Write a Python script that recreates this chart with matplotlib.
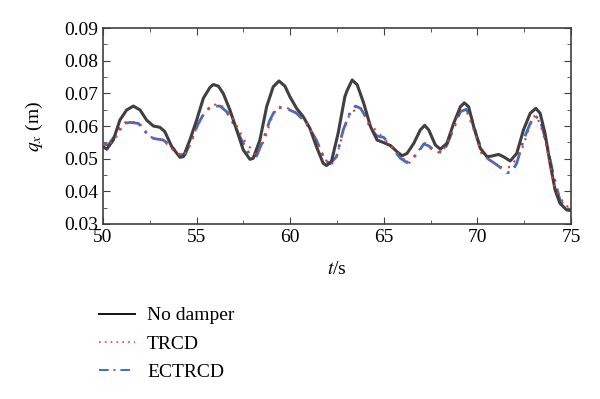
import matplotlib
matplotlib.use("Agg")
import matplotlib.pyplot as plt
from matplotlib.lines import Line2D
from matplotlib.ticker import MultipleLocator

plt.rcParams["font.family"] = ["Liberation Serif", "DejaVu Serif"]
plt.rcParams["mathtext.fontset"] = "stix"

# No damper
t_nd = [50.0, 50.2, 50.55, 50.9, 51.26, 51.62, 51.98, 52.33, 52.69, 53.04, 53.3, 53.67,
        54.11, 54.29, 54.64, 55.0, 55.36, 55.71, 55.89, 56.16, 56.42, 56.78, 57.14, 57.49,
        57.85, 58.02, 58.38, 58.74, 59.09, 59.4, 59.72, 59.98, 60.34, 60.69, 61.05, 61.4,
        61.76, 61.94, 62.2, 62.56, 62.92, 63.05, 63.31, 63.58, 63.93, 64.29, 64.64, 65.0,
        65.36, 65.71, 65.98, 66.24, 66.6, 66.95, 67.18, 67.4, 67.75, 68.02, 68.37, 68.73,
        69.09, 69.3, 69.53, 69.8, 70.15, 70.51, 70.77, 71.13, 71.39, 71.75, 72.1, 72.46,
        72.82, 73.12, 73.35, 73.61, 73.88, 74.15, 74.41, 74.77, 75.0]
q_nd = [0.0537, 0.0529, 0.0557, 0.0618, 0.0649, 0.0661, 0.0649, 0.0618, 0.0600, 0.0596, 0.0583, 0.0537,
        0.0504, 0.0506, 0.0557, 0.0618, 0.0685, 0.0718, 0.0727, 0.0722, 0.0700, 0.0649, 0.0588, 0.0527,
        0.0498, 0.0501, 0.0557, 0.0659, 0.0720, 0.0738, 0.0722, 0.0690, 0.0654, 0.0629, 0.0593, 0.0537,
        0.0486, 0.0479, 0.0491, 0.0578, 0.0690, 0.0710, 0.0741, 0.0726, 0.0669, 0.0598, 0.0557, 0.0549,
        0.0540, 0.0521, 0.0509, 0.0516, 0.0547, 0.0588, 0.0602, 0.0588, 0.0542, 0.0529, 0.0547, 0.0608,
        0.0659, 0.0671, 0.0659, 0.0598, 0.0532, 0.0506, 0.0508, 0.0513, 0.0506, 0.0493, 0.0516, 0.0588,
        0.0639, 0.0654, 0.0639, 0.0578, 0.0486, 0.0404, 0.0363, 0.0343, 0.0341]

# TRCD
t_tr = [50.0, 50.28, 50.73, 51.18, 51.5, 51.92, 52.51, 53.19, 53.9, 54.3, 54.61, 54.96, 55.41,
        55.8, 56.21, 56.87, 57.53, 58.2, 58.65, 58.95, 59.31, 59.7, 60.2, 60.87, 61.37, 61.85,
        62.17, 62.45, 62.87, 63.2, 63.72, 64.25, 64.91, 65.62, 66.33, 66.95, 67.2, 67.58, 68.0,
        68.34, 69.05, 69.4, 69.94, 70.24, 70.6, 71.04, 71.4, 71.8, 72.37, 72.96, 73.15, 73.44,
        73.7, 74.06, 74.59, 74.95]
q_tr = [0.0545, 0.0540, 0.0569, 0.0611, 0.0613, 0.0610, 0.0567, 0.0557, 0.0518, 0.0508, 0.0537, 0.0590, 0.0639,
        0.0662, 0.0669, 0.0631, 0.0557, 0.0509, 0.0562, 0.0615, 0.0659, 0.0658, 0.0647, 0.0610, 0.0559, 0.0498,
        0.0481, 0.0500, 0.0590, 0.0640, 0.0657, 0.0606, 0.0567, 0.0524, 0.0484, 0.0532, 0.0548, 0.0527, 0.0518,
        0.0540, 0.0644, 0.0649, 0.0567, 0.0511, 0.0498, 0.0481, 0.0470, 0.0476, 0.0527, 0.0627, 0.0633, 0.0590,
        0.0535, 0.0424, 0.0363, 0.0348]

# ECTRCD
t_ec = [50.0, 50.28, 50.73, 51.09, 51.44, 51.89, 52.24, 52.69, 53.22, 53.67, 54.02, 54.38, 54.73,
        55.09, 55.45, 55.8, 56.25, 56.6, 56.96, 57.4, 57.85, 58.2, 58.56, 58.91, 59.27, 59.8,
        60.34, 60.87, 61.4, 61.85, 62.12, 62.47, 62.83, 63.22, 63.49, 63.76, 64.02, 64.29, 64.64,
        65.0, 65.53, 65.89, 66.24, 66.78, 67.13, 67.4, 67.66, 68.1, 68.37, 68.73, 69.09, 69.4,
        69.7, 69.97, 70.33, 70.6, 71.04, 71.57, 71.84, 72.1, 72.46, 72.82, 73.08, 73.35, 73.7,
        74.06, 74.41, 74.77, 75.0]
q_ec = [0.0545, 0.0542, 0.0578, 0.0608, 0.0611, 0.0608, 0.0583, 0.0562, 0.0557, 0.0537, 0.0514, 0.0511, 0.0557,
        0.0608, 0.0644, 0.0661, 0.0661, 0.0644, 0.0608, 0.0557, 0.0511, 0.0508, 0.0557, 0.0618, 0.0657, 0.0654,
        0.0639, 0.0608, 0.0557, 0.0496, 0.0484, 0.0506, 0.0588, 0.0644, 0.0661, 0.0654, 0.0629, 0.0593, 0.0569,
        0.0565, 0.0527, 0.0501, 0.0488, 0.0514, 0.0545, 0.0539, 0.0527, 0.0518, 0.0542, 0.0593, 0.0644, 0.0651,
        0.0623, 0.0567, 0.0511, 0.0498, 0.0481, 0.0457, 0.0460, 0.0486, 0.0557, 0.0608, 0.0631, 0.0618, 0.0547,
        0.0450, 0.0373, 0.0348, 0.0343]

labels = ["No damper", "TRCD", "ECTRCD"]
colors = ["#404040", "#f0392b", "#3a70c8"]
styles = ["-", (0, (1, 3)), (0, (6, 2.5, 1, 2.5))]

fig = plt.figure(figsize=(6.0, 3.99), dpi=100)
ax = fig.add_axes([0.1717, 0.4386, 0.78, 0.4912])

ax.plot(t_nd, q_nd, color=colors[0], lw=2.2, ls=styles[0], zorder=3)
ax.plot(t_tr, q_tr, color=colors[1], lw=1.5, ls=styles[1], zorder=4)
ax.plot(t_ec, q_ec, color=colors[2], lw=2.0, ls=styles[2], zorder=2)

ax.set_xlim(50, 75)
ax.set_ylim(0.03, 0.09)
ax.xaxis.set_major_locator(MultipleLocator(5))
ax.xaxis.set_minor_locator(MultipleLocator(2.5))
ax.yaxis.set_major_locator(MultipleLocator(0.01))
ax.yaxis.set_minor_locator(MultipleLocator(0.005))
ax.set_yticklabels([f"{v:.2f}" for v in ax.get_yticks()])
ax.tick_params(which="both", direction="in", top=True, right=True, labelsize=14, color="#404040")
ax.tick_params(which="major", length=5)
ax.tick_params(which="minor", length=3)
for s in ax.spines.values():
    s.set_color("#404040")
    s.set_linewidth(1.2)

ax.set_xlabel("$t$/s", fontsize=14)
ax.xaxis.set_label_coords(0.5, -0.19)
ax.set_ylabel("$q_x$ (m)", fontsize=14)
ax.yaxis.set_label_coords(-0.125, 0.5)

# thinner handles in the legend, as in the original figure
handles = [Line2D([], [], color="#111111", lw=1.4, ls=styles[0]),
           Line2D([], [], color=colors[1], lw=1.2, ls=(0, (1, 2.5))),
           Line2D([], [], color=colors[2], lw=1.4, ls=(0, (5, 2.5, 1, 2.5)))]
fig.legend(handles=handles, labels=labels, loc="upper left", bbox_to_anchor=(0.135, 0.275),
           frameon=False, fontsize=14, handlelength=1.9, labelspacing=0.55, handletextpad=0.6)

fig.savefig("out.png", dpi=100)
